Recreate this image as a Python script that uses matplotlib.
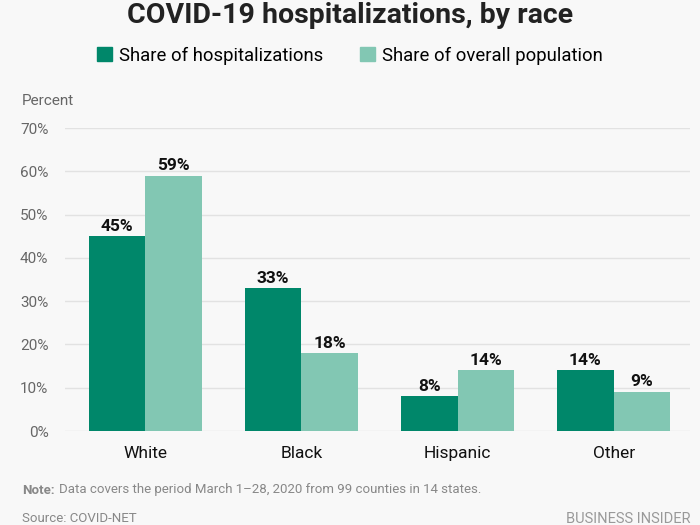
import matplotlib
matplotlib.use("Agg")
import matplotlib.pyplot as plt
import numpy as np
from matplotlib.patches import Rectangle

categories = ["White", "Black", "Hispanic", "Other"]
hosp = [45, 33, 8, 14]
pop = [59, 18, 14, 9]
series_names = ["Share of hospitalizations", "Share of overall population"]
yticks = [0, 10, 20, 30, 40, 50, 60, 70]

dark = "#00876a"
light = "#82c7b3"
bg = "#f8f8f8"

plt.rcParams['font.family'] = ['Roboto', 'DejaVu Sans']

fig = plt.figure(figsize=(7, 5.25), dpi=100, facecolor=bg)
ax = fig.add_axes([0.093, 0.179, 0.893, 0.577], facecolor=bg)

x = np.arange(len(categories))
w = 0.362
b1 = ax.bar(x - w/2, hosp, w, color=dark, zorder=3)
b2 = ax.bar(x + w/2, pop, w, color=light, zorder=3)

for bars, vals in ((b1, hosp), (b2, pop)):
    for r, v in zip(bars, vals):
        ax.text(r.get_x() + r.get_width()/2, v + 0.6, f"{v}%", ha="center", va="bottom",
                fontsize=12.5, fontweight="bold", color="#111111", clip_on=False)

ax.set_xlim(-0.513, 3.49)
ax.set_ylim(0, 70)
ax.set_yticks(yticks)
ax.set_yticklabels([f"{t}%" for t in yticks], fontsize=11, color="#666666")
ax.set_xticks(x)
ax.set_xticklabels(categories, fontsize=12.5, color="#111111")
ax.tick_params(axis="both", length=0)
ax.tick_params(axis="y", pad=12)
ax.tick_params(axis="x", pad=11)
for s in ax.spines.values():
    s.set_visible(False)
ax.yaxis.grid(True, color="#e2e2e2", linewidth=1, zorder=0)
ax.set_axisbelow(True)

fig.text(0.5, 0.970, "COVID-19 hospitalizations, by race", ha="center", va="center",
         fontsize=20.5, fontweight="bold", color="#222222")

# legend
handles = [Rectangle((0, 0), 1, 1, color=dark), Rectangle((0, 0), 1, 1, color=light)]
fig.legend(handles, series_names, loc="center", bbox_to_anchor=(0.5, 0.894), ncol=2,
           frameon=False, fontsize=13.3, handlelength=0.8, handleheight=0.8,
           handletextpad=0.4, columnspacing=2.0)

fig.text(22/700, 1 - 101/525, "Percent", ha="left", va="center", fontsize=11, color="#666666")
fig.text(22/700, 1 - 490/525, "Note:", ha="left", va="center", fontsize=9.5,
         color="#888888", fontweight="bold")
fig.text(59/700, 1 - 490/525, "Data covers the period March 1\u201328, 2020 from 99 counties in 14 states.",
         ha="left", va="center", fontsize=9.5, color="#888888")
fig.text(22/700, 1 - 519/525, "Source: COVID-NET", ha="left", va="center", fontsize=9.5, color="#888888")
fig.text(690/700, 1 - 519/525, "BUSINESS INSIDER", ha="right", va="center", fontsize=10.5,
         color="#999999")

fig.savefig("out.png", dpi=100, facecolor=bg)
